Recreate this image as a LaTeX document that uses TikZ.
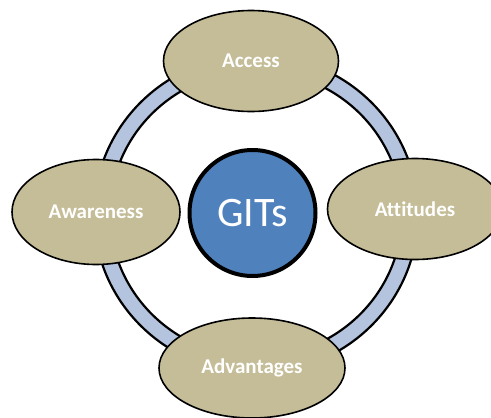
\documentclass[tikz,border=0pt]{standalone}
\usepackage{fontspec}
\setmainfont{Carlito}[Ligatures=CommonOff]
\usepackage{xcolor}
\usetikzlibrary{shapes.geometric,positioning}
\definecolor{ringblue}{HTML}{B4C4DE}
\definecolor{tan}{HTML}{C4BD97}
\definecolor{gitsblue}{HTML}{4F81BD}

\begin{document}
\begin{tikzpicture}[x=1pt,y=-1pt,
 lobe/.style={draw,ellipse,line width=1.6pt,fill=tan,text=white,inner sep=0pt,
   minimum width=175pt,minimum height=101pt,font=\fontsize{21}{24}\selectfont\bfseries},
 hub/.style={draw,circle,line width=4pt,fill=gitsblue,text=white,inner sep=0pt,
   minimum size=126pt,font=\fontsize{42}{48}\selectfont},
 ring/.style={draw,line width=2.2pt,fill=ringblue,even odd rule}]
\useasboundingbox (0,0) rectangle (491,418);
\coordinate (mid) at (256,214);
% ring behind everything
\path[ring] (mid) ellipse[x radius=162pt,y radius=159pt]
            (mid) ellipse[x radius=146pt,y radius=143pt];
\node[hub] (gits) at (252.5,213) {GITs};
\node[lobe] (access) at (251,61) {Access};
\node[lobe] (att) at (415,209) {Attitudes};
\node[lobe,minimum width=168pt,minimum height=105pt] (aware) at (96,212) {Awareness};
\node[lobe,minimum width=186pt,minimum height=100pt] (adv) at (252,368) {Advantages};
\end{tikzpicture}
\end{document}
